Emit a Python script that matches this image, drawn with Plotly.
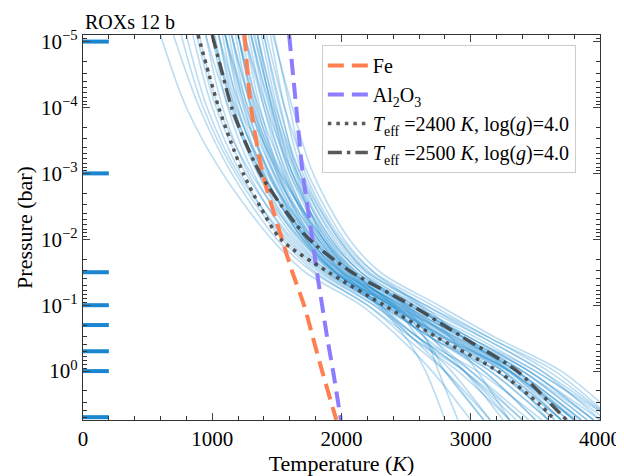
import plotly.graph_objects as go

# ---------------- data ----------------
# pressure levels (log10 bar) at which profiles were read
log_p_levels = [-5.1, -4.0, -3.0, -2.0, -1.5, -1.0, -0.5, 0.0, 0.74]

# retrieved P-T samples (temperature in K at each level)
sample_profiles = [
    [600, 800, 1080, 1460, 1720, 2150, 2450, 2700, 3000],
    [700, 900, 1150, 1500, 1780, 2200, 2500, 2800, 3150],
    [850, 1000, 1220, 1560, 1830, 2250, 2600, 2950, 3350],
    [950, 1080, 1280, 1600, 1870, 2300, 2700, 3100, 3500],
    [1000, 1120, 1320, 1640, 1900, 2350, 2800, 3200, 3650],
    [1050, 1170, 1360, 1680, 1930, 2380, 2750, 3150, 3600],
    [1100, 1220, 1400, 1700, 1950, 2400, 2850, 3300, 3800],
    [1150, 1270, 1440, 1730, 1970, 2420, 2900, 3350, 3850],
    [1200, 1320, 1480, 1760, 2000, 2450, 2700, 3000, 3400],
    [1250, 1370, 1520, 1800, 2030, 2480, 2950, 3400, 3900],
    [1300, 1420, 1570, 1840, 2060, 2520, 3000, 3450, 4000],
    [1350, 1480, 1620, 1880, 2100, 2550, 3050, 3500, 4100],
    [1400, 1530, 1660, 1920, 2150, 2600, 3100, 3550, 4100],
    [1450, 1560, 1700, 1980, 2200, 2650, 3150, 3600, 4100],
    [1000, 1180, 1420, 1780, 2000, 2300, 2550, 2900, 3300],
    [1100, 1260, 1480, 1820, 2050, 2350, 2650, 2800, 3100],
    [1200, 1340, 1540, 1860, 2100, 2400, 2800, 3250, 3700],
    [900, 1050, 1300, 1680, 1920, 2280, 2600, 3050, 3550],
    [1300, 1440, 1600, 1900, 2150, 2500, 2750, 3100, 3500],
    [1150, 1300, 1500, 1760, 1980, 2380, 2800, 3300, 3750],
    [1050, 1220, 1450, 1720, 1950, 2330, 2700, 3200, 3700],
    [1250, 1400, 1580, 1820, 2050, 2450, 2900, 3400, 3950],
    [1350, 1460, 1640, 1860, 2080, 2500, 2850, 3250, 3600],
    [1400, 1520, 1680, 1940, 2180, 2560, 2950, 3350, 3800],
    [950, 1130, 1380, 1740, 1960, 2300, 2600, 2950, 3300],
    [1200, 1360, 1560, 1800, 2020, 2380, 2650, 3000, 3450],
    [1300, 1450, 1620, 1880, 2120, 2520, 3000, 3500, 4050],
    [1100, 1240, 1440, 1750, 2000, 2420, 2880, 3350, 3850],
    [1480, 1600, 1720, 2000, 2250, 2700, 3150, 3650, 4100],
    [800, 960, 1200, 1580, 1850, 2250, 2550, 2800, 3100],
    [1020, 1150, 1350, 1660, 1900, 2330, 2750, 3200, 3650],
    [1080, 1200, 1390, 1700, 1940, 2370, 2780, 3250, 3700],
    [1130, 1250, 1430, 1720, 1960, 2400, 2820, 3280, 3750],
    [1180, 1300, 1470, 1750, 1990, 2430, 2860, 3300, 3800],
    [1230, 1350, 1510, 1780, 2010, 2460, 2880, 3320, 3820],
    [1280, 1400, 1550, 1820, 2040, 2490, 2920, 3360, 3860],
    [1330, 1460, 1600, 1860, 2080, 2530, 2960, 3400, 3900],
    [1380, 1500, 1650, 1900, 2120, 2570, 3000, 3450, 3950],
    [1420, 1560, 1740, 2020, 2250, 2620, 2950, 3300, 3700],
    [1470, 1620, 1780, 2060, 2300, 2750, 3200, 3700, 4150],
    [1100, 1280, 1520, 1860, 2080, 2400, 2600, 2850, 3150],
    [1250, 1420, 1620, 1920, 2150, 2480, 2700, 2950, 3250],
    [1000, 1160, 1380, 1720, 1950, 2280, 2500, 2650, 2800],
    [1150, 1310, 1530, 1840, 2070, 2420, 2650, 2750, 2900],
    [1320, 1470, 1660, 1960, 2200, 2600, 2850, 3050, 3300],
    [880, 1030, 1260, 1620, 1880, 2300, 2700, 3150, 3600],
    [760, 930, 1180, 1540, 1800, 2200, 2550, 2950, 3400],
    [1200, 1330, 1500, 1780, 2020, 2460, 2950, 3450, 3950],
    [1050, 1190, 1400, 1700, 1950, 2380, 2820, 3300, 3800],
    [1350, 1490, 1680, 1980, 2220, 2650, 3100, 3550, 4000],
]

# condensation curves
cond_log_p = [-5.1, -4.0, -3.0, -2.0, -1.5, -1.0, -0.5, 0.0, 0.74]
fe_temp = [1250, 1300, 1390, 1540, 1620, 1710, 1780, 1850, 1960]
al2o3_temp = [1595, 1650, 1700, 1775, 1810, 1850, 1890, 1935, 1995]

# model profiles
model_log_p = [-5.1, -4.5, -4.0, -3.5, -3.0, -2.5, -2.0, -1.5, -1.0, -0.5, 0.0, 0.5, 0.74]
model_2400_temp = [890, 975, 1050, 1140, 1240, 1370, 1530, 1900, 2330, 2750, 3210, 3530, 3650]
model_2500_temp = [1000, 1080, 1150, 1250, 1370, 1540, 1750, 2080, 2540, 2950, 3360, 3620, 3740]

# retrieval pressure nodes (bar)
node_pressures = [1e-5, 1e-3, 0.0316, 0.1, 0.2, 0.5, 1.0, 5.0]
node_temp_span = [0, 200]

x_tick_vals = [0, 1000, 2000, 3000, 4000]
y_tick_vals = [1e-5, 1e-4, 1e-3, 1e-2, 1e-1, 1e0]
y_tick_text = ["10<sup>−5</sup>", "10<sup>−4</sup>", "10<sup>−3</sup>",
               "10<sup>−2</sup>", "10<sup>−1</sup>", "10<sup>0</sup>"]

# ---------------- figure ----------------
FONT = "Liberation Serif"
fig = go.Figure()

for prof in sample_profiles:
    fig.add_trace(go.Scatter(
        x=prof, y=[10 ** v for v in log_p_levels], mode="lines",
        line=dict(color="rgba(30,138,208,0.3)", width=1.6, shape="spline", smoothing=0.9),
        showlegend=False, hoverinfo="skip"))

# node markers at the left edge
nx, ny = [], []
for p in node_pressures:
    nx += [node_temp_span[0], node_temp_span[1], None]
    ny += [p, p, None]
fig.add_trace(go.Scatter(x=nx, y=ny, mode="lines",
                         line=dict(color="#1a86d0", width=4),
                         showlegend=False, hoverinfo="skip", cliponaxis=False))

fig.add_trace(go.Scatter(
    x=fe_temp, y=[10 ** v for v in cond_log_p], mode="lines", name="Fe",
    line=dict(color="#ff7f50", width=4, dash="16px,8px", shape="spline", smoothing=0.8)))
fig.add_trace(go.Scatter(
    x=al2o3_temp, y=[10 ** v for v in cond_log_p], mode="lines",
    name="Al<sub>2</sub>O<sub>3</sub>",
    line=dict(color="#8c7dff", width=4, dash="16px,8px", shape="spline", smoothing=0.8)))
fig.add_trace(go.Scatter(
    x=model_2400_temp, y=[10 ** v for v in model_log_p], mode="lines",
    name="<i>T</i><sub>eff</sub> =2400 <i>K</i>, log(<i>g</i>)=4.0",
    line=dict(color="rgba(60,60,60,0.85)", width=3.5, dash="3.5px,5px", shape="spline",
              smoothing=0.8)))
fig.add_trace(go.Scatter(
    x=model_2500_temp, y=[10 ** v for v in model_log_p], mode="lines",
    name="<i>T</i><sub>eff</sub> =2500 <i>K</i>, log(<i>g</i>)=4.0",
    line=dict(color="rgba(60,60,60,0.85)", width=3.5, dash="14px,5px,3.5px,5px",
              shape="spline", smoothing=0.8)))

minor_y = [m * 10 ** e for e in range(-6, 1) for m in range(2, 10)]

fig.update_xaxes(
    range=[0, 4000], tickvals=x_tick_vals, ticks="inside", ticklen=7, tickwidth=1,
    showline=True, linecolor="#333", linewidth=1.3, mirror="allticks", showgrid=False,
    zeroline=False, automargin=False,
    tickfont=dict(family=FONT, size=21, color="black"),
    title=dict(text="Temperature (<i>K</i>)", font=dict(family=FONT, size=22, color="black"),
               standoff=0),
    minor=dict(dtick=200, ticks="inside", ticklen=3.5, tickcolor="#333", showgrid=False))
fig.update_yaxes(
    type="log", range=[0.742, -5.1], tickmode="array", tickvals=y_tick_vals,
    ticktext=y_tick_text, ticks="inside", ticklen=7, tickwidth=1,
    showline=True, linecolor="#333", linewidth=1.3, mirror="allticks", showgrid=False,
    zeroline=False, automargin=False,
    tickfont=dict(family=FONT, size=21, color="black"),
    title=dict(text="Pressure (bar)", font=dict(family=FONT, size=22, color="black"),
               standoff=2),
    minor=dict(tickmode="array", tickvals=minor_y, ticks="inside", ticklen=3.5,
               tickcolor="#333", showgrid=False))

fig.add_annotation(text="ROXs 12 b", x=0, y=1, xref="paper", yref="paper",
                   xanchor="left", yanchor="bottom", yshift=0, showarrow=False,
                   font=dict(family=FONT, size=20, color="black"))

# the page body adds an 8px offset, so the figure is sized to the visible area
fig.update_layout(
    width=616, height=468,
    margin=dict(l=75, r=24, t=27, b=56),
    paper_bgcolor="white", plot_bgcolor="white",
    font=dict(family=FONT, size=20, color="black"),
    legend=dict(x=0.462, y=0.974, xanchor="left", yanchor="top",
                bgcolor="rgba(255,255,255,0.85)", bordercolor="#cccccc", borderwidth=1,
                font=dict(family=FONT, size=20, color="black"), tracegroupgap=0,
                itemwidth=40),
)

fig.write_html("out.html")
